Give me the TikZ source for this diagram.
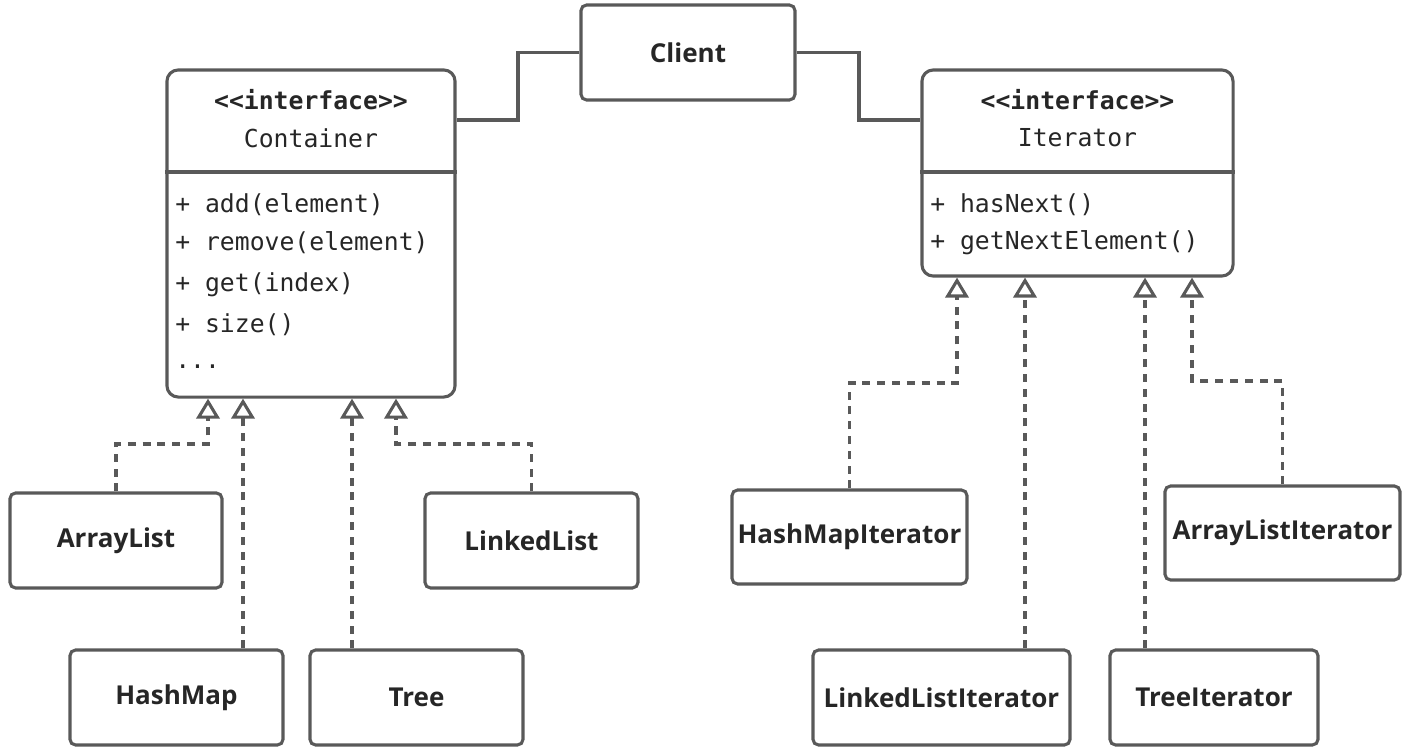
\documentclass[tikz,border=0pt]{standalone}
\usepackage{fontspec}
\setmainfont{Open Sans}
\setmonofont{DejaVu Sans Mono}
\usetikzlibrary{arrows.meta,positioning}
\definecolor{edgegray}{HTML}{595959}
\definecolor{ink}{HTML}{262626}

\tikzset{
  clsbox/.style={draw=edgegray,line width=2.2pt,rounded corners=4pt,text=ink,
    font=\fontsize{18.5}{22}\selectfont\bfseries,minimum height=2.375cm},
  ifbox/.style={draw=edgegray,line width=2.2pt,rounded corners=8pt},
  link/.style={draw=edgegray,line width=2.2pt},
  impl/.style={draw=edgegray,line width=2.2pt,dash pattern=on 0.2cm off 0.17cm,
    -{Triangle[open,width=0.58cm,length=0.5cm]}},
  code/.style={font=\ttfamily\fontsize{17.6}{20}\selectfont,text=ink,inner sep=0pt},
}

\begin{document}
\begin{tikzpicture}[x=0.025cm,y=-0.025cm]
          \useasboundingbox (0,0) rectangle (1410,751);
          % interfaces
          \node[ifbox,minimum width=7.2cm,minimum height=8.175cm] (container) at (311,233.5) {};
          \draw[link] (container.west|-{(0,172)}) -- (container.east|-{(0,172)});
          \node[code,font=\ttfamily\bfseries\fontsize{17.6}{20}\selectfont] (containerst) at (311,100) {<{}<interface>{}>};
          \node[code] (containername) at (311,138) {Container};
          \node[code,anchor=west] (cadd) at (175,205) {+ add(element)};
          \node[code,anchor=west] (cremove) at (175,243) {+ remove(element)};
          \node[code,anchor=west] (cget) at (175,285) {+ get(index)};
          \node[code,anchor=west] (csize) at (175,325) {+ size()};
          \node[code,anchor=west] (cmore) at (175,367) {...};

          \node[ifbox,minimum width=7.775cm,minimum height=5.15cm] (iterator) at (1077.5,173) {};
          \draw[link] (iterator.west|-{(0,172)}) -- (iterator.east|-{(0,172)});
          \node[code,font=\ttfamily\bfseries\fontsize{17.6}{20}\selectfont] (iteratorst) at (1077.5,100) {<{}<interface>{}>};
          \node[code] (iteratorname) at (1077.5,138) {Iterator};
          \node[code,anchor=west] (ihasnext) at (930,205) {+ hasNext()};
          \node[code,anchor=west] (igetnext) at (930,243) {+ getNextElement()};

          % client
          \node[clsbox,minimum width=5.35cm] (client) at (688,52.5) {Client};
          \coordinate (clbend) at (518,120);
          \coordinate (crbend) at (859,120);
          \draw[link] (client.west) -| (clbend) -- (clbend-|container.east);
          \draw[link] (client.east) -| (crbend) -- (crbend-|iterator.west);

          % implementations of Container
          \node[clsbox,minimum width=5.3cm] (arraylist) at (116,540.5) {ArrayList};
          \node[clsbox,minimum width=5.325cm] (linkedlist) at (531.5,540.5) {LinkedList};
          \node[clsbox,minimum width=5.325cm] (hashmap) at (176.5,697.5) {HashMap};
          \node[clsbox,minimum width=5.325cm] (tree) at (416.5,697.5) {Tree};
          \coordinate (ca) at (208,444);
          \coordinate (cb) at (243,444);
          \coordinate (cc) at (352,444);
          \coordinate (cd) at (396,444);
          \draw[impl] (arraylist.north) |- (ca) -- (ca|-container.south);
          \draw[impl] (cb|-hashmap.north) -- (cb|-container.south);
          \draw[impl] (cc|-tree.north) -- (cc|-container.south);
          \draw[impl] (linkedlist.north) |- (cd) -- (cd|-container.south);

          % implementations of Iterator
          \node[clsbox,minimum width=5.875cm,minimum height=2.35cm] (hashmapit) at (849.5,537) {HashMapIterator};
          \node[clsbox,minimum width=5.875cm,minimum height=2.35cm] (arraylistit) at (1282.5,533) {ArrayListIterator};
          \node[clsbox,minimum width=6.425cm] (linkedlistit) at (941.5,697.5) {LinkedListIterator};
          \node[clsbox,minimum width=5.2cm] (treeit) at (1214,697.5) {TreeIterator};
          \coordinate (ia) at (957,383);
          \coordinate (ib) at (1025,383);
          \coordinate (ic) at (1145,383);
          \coordinate (id) at (1192,381);
          \draw[impl] (hashmapit.north) |- (ia) -- (ia|-iterator.south);
          \draw[impl] (ib|-linkedlistit.north) -- (ib|-iterator.south);
          \draw[impl] (ic|-treeit.north) -- (ic|-iterator.south);
          \draw[impl] (arraylistit.north) |- (id) -- (id|-iterator.south);
        \end{tikzpicture}
\end{document}
